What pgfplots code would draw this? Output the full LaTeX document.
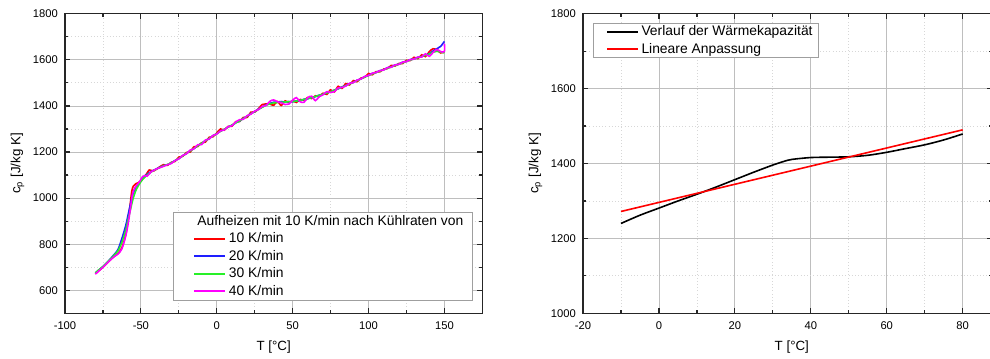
\documentclass[border=0pt]{standalone}
\usepackage{fontspec}
\setmainfont{Liberation Sans}
\usepackage{pgfplots}
\pgfplotsset{compat=1.18}

\definecolor{cpred}{RGB}{255,0,0}
\definecolor{cpblue}{RGB}{30,30,255}
\definecolor{cpgreen}{RGB}{40,240,40}
\definecolor{cpmag}{RGB}{255,0,255}
\definecolor{gridmajor}{RGB}{190,190,190}
\definecolor{gridminor}{RGB}{215,215,215}

\pgfplotsset{
  cpaxis/.style={
    scale only axis,
    anchor=south west,
    axis line style={line width=0.9pt, black!85},
    tick align=inside,
    major tick length=3.75pt,
    minor tick length=2.2pt,
    every tick/.style={black!85, line width=0.9pt},
    grid=both,
    major grid style={gridmajor, line width=0.6pt},
    minor grid style={gridminor, dotted, line width=0.6pt},
    minor x tick num=1,
    minor y tick num=1,
    tick label style={font=\fontsize{8.4}{10}\selectfont},
    yticklabel style={xshift=-1.9pt},
    xticklabel style={yshift=-3pt},
    label style={font=\fontsize{10}{12}\selectfont},
    /pgf/number format/assume math mode=true,
    /pgf/number format/1000 sep={},
    ylabel={c\textsubscript{p} [J/kg K]},
    xlabel={T [°C]},
    legend cell align=left,
    legend style={
      font=\fontsize{10.4}{12}\selectfont,
      draw=gray!75, line width=0.6pt,
      column sep=0pt, row sep=0pt,
      cells={anchor=west},
    },
  },
  every axis plot/.append style={line width=1.2pt, smooth, tension=0.5},
}

\begin{document}
\begin{tikzpicture}
\useasboundingbox (0,0) rectangle (742.5pt,268.5pt);

% heat capacity after different cooling rates
\begin{axis}[cpaxis,
  at={(48.75pt,33.5pt)}, width=313pt, height=224.7pt,
  xmin=-100, xmax=175, ymin=500, ymax=1800,
  xtick={-100,-50,...,150}, ytick={600,800,...,1800},
  ylabel style={at={(axis description cs:-0.1138,0.5)}, anchor=center},
  xlabel style={at={(axis description cs:0.5,0)}, anchor=center, yshift=-25pt},
  legend image code/.code={\path (0pt,0pt); \draw[#1, line width=1.5pt] (10.5pt,0pt) -- (33.75pt,0pt);},
  legend style={inner xsep=4.5pt, inner ysep=0.5pt,
    at={(axis description cs:0.976,0.042)}, anchor=south east},
]
\addlegendimage{empty legend}
\addlegendentry{\hspace{-23.75pt}Aufheizen mit 10 K/min nach Kühlraten von}

\addplot[cpred] coordinates {
(-80,672) (-77.5,686) (-75,700) (-72.5,716) (-70,733) (-67.5,748) (-65,760)
(-62.5,785) (-60,840) (-58.5,900) (-57,975) (-56,1030) (-55,1052) (-53.5,1062)
(-52,1066) (-50.5,1072) (-49,1082) (-47.5,1092) (-46,1108) (-44.5,1122) (-43,1120)
(-41.5,1118) (-40,1124) (-37.5,1136) (-35,1145) (-32.5,1142) (-30,1155) (-27.5,1159)
(-25,1178) (-22.5,1181) (-20,1198) (-17.5,1200) (-15,1223) (-12.5,1224) (-10,1240)
(-7.5,1243) (-5,1264) (-2.5,1266) (0,1283) (2.5,1300) (5,1295) (7.5,1311) (10,1312)
(12.5,1332) (15,1332) (17.5,1350) (20,1350) (22.5,1373) (25,1373) (27.5,1388)
(30,1406) (32.5,1409) (35,1408) (37.5,1403) (40,1419) (42.5,1402) (45,1422)
(47.5,1415) (50,1422) (52.5,1415) (55,1428) (57.5,1425) (60,1437) (62.5,1432)
(65,1444) (67.5,1441) (70,1455) (72.5,1450) (75,1470) (77.5,1461) (80,1485)
(82.5,1476) (85,1497) (87.5,1491) (90,1510) (92.5,1505) (95,1521) (97.5,1524)
(100,1541) (102.5,1535) (105,1549) (107.5,1548) (110,1560) (112.5,1562) (115,1576)
(117.5,1573) (120,1584) (122.5,1584) (125,1598) (127.5,1597) (130,1611) (132.5,1605)
(135,1622) (137.5,1614) (140,1635) (142.5,1648) (145,1643) (147.5,1630) (150,1635)
};
\addlegendentry{10 K/min}

\addplot[cpblue] coordinates {
(-80,675) (-77.5,689) (-75,703) (-72.5,719) (-70,737) (-67.5,756) (-65,778)
(-62.5,825) (-60,880) (-58.5,925) (-57,970) (-56,1000) (-55,1022) (-53.5,1045)
(-52,1060) (-50.5,1072) (-49,1084) (-47.5,1094) (-45,1108) (-42.5,1118) (-40,1126)
(-37.5,1134) (-35,1141) (-32.5,1145) (-30,1153) (-27.5,1163) (-25,1171) (-22.5,1184)
(-20,1193) (-17.5,1206) (-15,1215) (-12.5,1228) (-10,1237) (-7.5,1250) (-5,1258)
(-2.5,1271) (0,1279) (2.5,1291) (5,1298) (7.5,1309) (10,1316) (12.5,1327) (15,1334)
(17.5,1346) (20,1355) (22.5,1367) (25,1375) (27.5,1387) (30,1395) (32.5,1405)
(35,1411) (37.5,1416) (40,1417) (42.5,1419) (45,1417) (47.5,1419) (50,1418)
(52.5,1422) (55,1423) (57.5,1429) (60,1431) (62.5,1437) (65,1440) (67.5,1447)
(70,1450) (72.5,1457) (75,1461) (77.5,1469) (80,1474) (82.5,1483) (85,1488)
(87.5,1497) (90,1502) (92.5,1512) (95,1517) (97.5,1527) (100,1532) (102.5,1541)
(105,1545) (107.5,1553) (110,1557) (112.5,1566) (115,1569) (117.5,1578) (120,1581)
(122.5,1590) (125,1593) (127.5,1601) (130,1604) (132.5,1611) (135,1614) (137.5,1621)
(140,1626) (142.5,1638) (145,1648) (147.5,1658) (150,1680)
};
\addlegendentry{20 K/min}

\addplot[cpgreen] coordinates {
(-80,676) (-77.5,690) (-75,703) (-72.5,719) (-70,736) (-67.5,753) (-65,772)
(-62.5,808) (-60,860) (-58.5,905) (-57,945) (-56,975) (-55,1000) (-53.5,1030)
(-52,1050) (-50.5,1066) (-49,1080) (-47.5,1090) (-45,1105) (-42.5,1116) (-40,1125)
(-37.5,1133) (-35,1140) (-32.5,1146) (-30,1153) (-27.5,1162) (-25,1172) (-22.5,1183)
(-20,1194) (-17.5,1205) (-15,1216) (-12.5,1227) (-10,1238) (-7.5,1249) (-5,1259)
(-2.5,1270) (0,1280) (2.5,1290) (5,1299) (7.5,1308) (10,1317) (12.5,1326) (15,1335)
(17.5,1345) (20,1356) (22.5,1366) (25,1376) (27.5,1385) (30,1394) (32.5,1403)
(35,1409) (37.5,1413) (40,1415) (42.5,1416) (45,1417) (47.5,1418) (50,1419)
(52.5,1421) (55,1424) (57.5,1428) (60,1432) (62.5,1436) (65,1441) (67.5,1446)
(70,1451) (72.5,1456) (75,1462) (77.5,1468) (80,1475) (82.5,1481) (85,1488)
(87.5,1495) (90,1502) (92.5,1510) (95,1517) (97.5,1525) (100,1532) (102.5,1539)
(105,1545) (107.5,1551) (110,1557) (112.5,1563) (115,1569) (117.5,1575) (120,1581)
(122.5,1587) (125,1593) (127.5,1599) (130,1604) (132.5,1609) (135,1614) (137.5,1620)
(140,1625) (142.5,1633) (145,1637) (147.5,1634) (150,1630)
};
\addlegendentry{30 K/min}

\addplot[cpmag] coordinates {
(-80,670) (-77.5,685) (-75,700) (-72.5,716) (-70,732) (-67.5,746) (-65,758)
(-62.5,780) (-60,835) (-58.5,885) (-57,950) (-56,1000) (-55,1030) (-53.5,1050)
(-52,1062) (-50.5,1075) (-49,1092) (-47.5,1098) (-46,1095) (-44.5,1105) (-43,1115)
(-41.5,1120) (-40,1126) (-37.5,1132) (-35,1138) (-32.5,1145) (-30,1150) (-27.5,1163)
(-25,1170) (-22.5,1185) (-20,1192) (-17.5,1208) (-15,1214) (-12.5,1232) (-10,1232)
(-7.5,1252) (-5,1256) (-2.5,1272) (0,1278) (2.5,1292) (5,1296) (7.5,1310) (10,1314)
(12.5,1330) (15,1340) (17.5,1342) (20,1358) (22.5,1364) (25,1378) (27.5,1384)
(30,1398) (32.5,1402) (35,1420) (37.5,1426) (40,1418) (42.5,1414) (45,1406)
(47.5,1408) (50,1425) (52.5,1436) (55,1418) (57.5,1416) (60,1436) (62.5,1442)
(65,1423) (67.5,1440) (70,1448) (72.5,1462) (75,1458) (77.5,1462) (80,1478)
(82.5,1480) (85,1486) (87.5,1498) (90,1501) (92.5,1512) (95,1517) (97.5,1528)
(100,1532) (102.5,1542) (105,1545) (107.5,1553) (110,1556) (112.5,1566) (115,1568)
(117.5,1578) (120,1580) (122.5,1590) (125,1592) (127.5,1601) (130,1603) (132.5,1612)
(135,1612) (137.5,1626) (140,1615) (142.5,1632) (145,1645) (147.5,1636) (150,1636)
(150,1670)
};
\addlegendentry{40 K/min}
\end{axis}

% mean curve and linear fit
\begin{axis}[cpaxis,
  at={(437.25pt,33.5pt)}, width=306.4pt, height=224.7pt,
  xmin=-20, xmax=87.6, ymin=1000, ymax=1800,
  xtick={-20,0,...,80}, ytick={1000,1200,...,1800},
  ylabel style={at={(axis description cs:-0.1163,0.5)}, anchor=center},
  xlabel style={at={(axis description cs:0.5112,0)}, anchor=center, yshift=-25pt},
  legend image code/.code={\path (0pt,0pt); \draw[#1, line width=1.5pt] (7.5pt,0pt) -- (30.5pt,0pt);},
  legend style={inner xsep=2pt, inner ysep=0pt,
    at={(axis description cs:0.0252,0.970)}, anchor=north west},
]
\addplot[black] coordinates {
(-10,1240) (-5,1262) (0,1281) (5,1300) (10,1318) (15,1337) (20,1357) (25,1377)
(30,1396) (33,1406) (35,1411) (40,1416) (45,1417) (50,1418) (55,1422) (60,1430)
(65,1440) (70,1450) (75,1463) (80,1479)
};
\addlegendentry{Verlauf der Wärmekapazität}
\addplot[cpred] coordinates {(-10,1272) (80,1490)};
\addlegendentry{Lineare Anpassung}
\end{axis}
\end{tikzpicture}
\end{document}
